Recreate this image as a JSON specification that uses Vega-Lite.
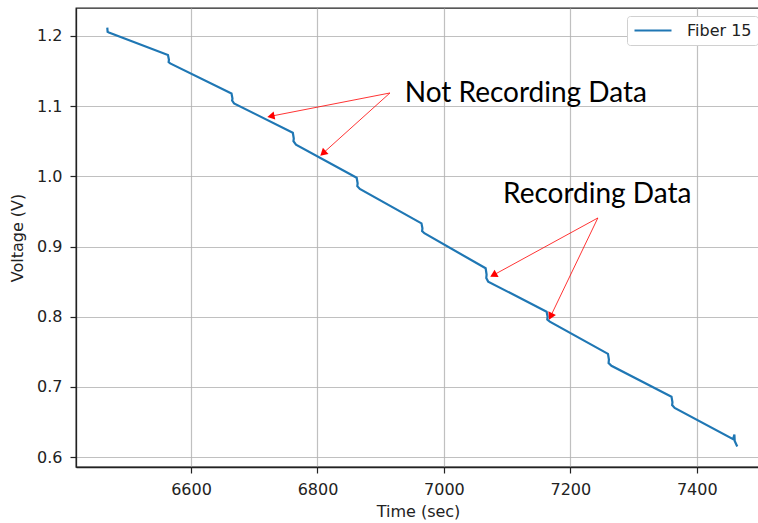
{
  "$schema": "https://vega.github.io/schema/vega-lite/v6.json",
  "width": 684,
  "height": 459,
  "autosize": {"type": "none"},
  "padding": {"left": 76, "top": 8, "right": 0, "bottom": 56},
  "background": "white",
  "config": {
    "view": {"stroke": "#222222", "strokeWidth": 1.3},
    "axis": {
      "labelFont": "DejaVu Sans", "labelFontSize": 16, "labelColor": "#222222",
      "titleFont": "DejaVu Sans", "titleFontSize": 16, "titleFontWeight": "normal", "titleColor": "#222222",
      "gridColor": "#b0b0b0", "gridWidth": 1.2, "gridOpacity": 0.8,
      "domainColor": "#222222", "domainWidth": 1.3,
      "tickColor": "#222222", "tickSize": 6, "tickWidth": 1.2
    }
  },
  "datasets": {
    "line": [
      {"i": 0, "t": 6467.5, "v": 1.212, "series": "Fiber 15"},
      {"i": 1, "t": 6468, "v": 1.206, "series": "Fiber 15"},
      {"i": 2, "t": 6470, "v": 1.205, "series": "Fiber 15"},
      {"i": 3, "t": 6563.5, "v": 1.173, "series": "Fiber 15"},
      {"i": 4, "t": 6565, "v": 1.166, "series": "Fiber 15"},
      {"i": 5, "t": 6564.5, "v": 1.163, "series": "Fiber 15"},
      {"i": 6, "t": 6567, "v": 1.161, "series": "Fiber 15"},
      {"i": 7, "t": 6664, "v": 1.118, "series": "Fiber 15"},
      {"i": 8, "t": 6665.5, "v": 1.111, "series": "Fiber 15"},
      {"i": 9, "t": 6665, "v": 1.108, "series": "Fiber 15"},
      {"i": 10, "t": 6668, "v": 1.104, "series": "Fiber 15"},
      {"i": 11, "t": 6761, "v": 1.062, "series": "Fiber 15"},
      {"i": 12, "t": 6762.5, "v": 1.054, "series": "Fiber 15"},
      {"i": 13, "t": 6762, "v": 1.05, "series": "Fiber 15"},
      {"i": 14, "t": 6766, "v": 1.045, "series": "Fiber 15"},
      {"i": 15, "t": 6862, "v": 0.998, "series": "Fiber 15"},
      {"i": 16, "t": 6863.5, "v": 0.99, "series": "Fiber 15"},
      {"i": 17, "t": 6863, "v": 0.986, "series": "Fiber 15"},
      {"i": 18, "t": 6867, "v": 0.982, "series": "Fiber 15"},
      {"i": 19, "t": 6964.5, "v": 0.933, "series": "Fiber 15"},
      {"i": 20, "t": 6966, "v": 0.926, "series": "Fiber 15"},
      {"i": 21, "t": 6965.5, "v": 0.922, "series": "Fiber 15"},
      {"i": 22, "t": 6969, "v": 0.919, "series": "Fiber 15"},
      {"i": 23, "t": 7066, "v": 0.869, "series": "Fiber 15"},
      {"i": 24, "t": 7067.5, "v": 0.86, "series": "Fiber 15"},
      {"i": 25, "t": 7067, "v": 0.855, "series": "Fiber 15"},
      {"i": 26, "t": 7070, "v": 0.85, "series": "Fiber 15"},
      {"i": 27, "t": 7162.5, "v": 0.807, "series": "Fiber 15"},
      {"i": 28, "t": 7164, "v": 0.8, "series": "Fiber 15"},
      {"i": 29, "t": 7163.5, "v": 0.796, "series": "Fiber 15"},
      {"i": 30, "t": 7167.5, "v": 0.793, "series": "Fiber 15"},
      {"i": 31, "t": 7259.5, "v": 0.747, "series": "Fiber 15"},
      {"i": 32, "t": 7261, "v": 0.739, "series": "Fiber 15"},
      {"i": 33, "t": 7260.5, "v": 0.734, "series": "Fiber 15"},
      {"i": 34, "t": 7265, "v": 0.73, "series": "Fiber 15"},
      {"i": 35, "t": 7360, "v": 0.686, "series": "Fiber 15"},
      {"i": 36, "t": 7361.5, "v": 0.678, "series": "Fiber 15"},
      {"i": 37, "t": 7361, "v": 0.674, "series": "Fiber 15"},
      {"i": 38, "t": 7365, "v": 0.67, "series": "Fiber 15"},
      {"i": 39, "t": 7457.5, "v": 0.6255, "series": "Fiber 15"},
      {"i": 40, "t": 7459.5, "v": 0.632, "series": "Fiber 15"},
      {"i": 41, "t": 7460, "v": 0.623, "series": "Fiber 15"},
      {"i": 42, "t": 7464, "v": 0.615, "series": "Fiber 15"}
    ],
    "arrows": [
      {"t": 6914.6, "v": 1.1188, "t2": 6726.3, "v2": 1.0857},
      {"t": 6914.6, "v": 1.1188, "t2": 6808.7, "v2": 1.0329},
      {"t": 7243.5, "v": 0.9407, "t2": 7078.3, "v2": 0.8593},
      {"t": 7243.5, "v": 0.9407, "t2": 7168.7, "v2": 0.8004}
    ],
    "labels": [
      {"t": 6938, "v": 1.1064, "text": "Not Recording Data"},
      {"t": 7093.5, "v": 0.9616, "text": "Recording Data"}
    ]
  },
  "layer": [
    {
      "data": {"name": "line"},
      "mark": {"type": "line", "strokeWidth": 2.2, "clip": true},
      "encoding": {
        "x": {"field": "t", "type": "quantitative", "title": "Time (sec)",
              "scale": {"domain": [6418, 7500], "nice": false, "zero": false},
              "axis": {"values": [6600, 6800, 7000, 7200, 7400], "grid": true, "labelPadding": 8, "titlePadding": 6, "format": "d"}},
        "y": {"field": "v", "type": "quantitative", "title": "Voltage (V)",
              "scale": {"domain": [0.5858, 1.2399], "nice": false, "zero": false},
              "axis": {"values": [0.6, 0.7, 0.8, 0.9, 1.0, 1.1, 1.2], "grid": true, "format": ".1f", "labelPadding": 8, "titlePadding": 11}},
        "order": {"field": "i", "type": "quantitative"},
        "color": {"field": "series", "type": "nominal",
                  "scale": {"range": ["#1f77b4"]},
                  "legend": {"orient": "none", "legendX": 551, "legendY": 8, "title": null,
                             "fillColor": "white", "strokeColor": "#d0d0d0", "cornerRadius": 3, "padding": 6,
                             "symbolType": "stroke", "symbolSize": 1369, "symbolStrokeWidth": 2.2, "clipHeight": 17,
                             "labelFont": "DejaVu Sans", "labelFontSize": 16, "labelColor": "#222222", "labelOffset": 14}}
      }
    },
    {
      "data": {"name": "arrows"},
      "mark": {"type": "rule", "color": "red", "strokeWidth": 0.8},
      "encoding": {
        "x": {"field": "t", "type": "quantitative"},
        "y": {"field": "v", "type": "quantitative"},
        "x2": {"field": "t2"},
        "y2": {"field": "v2"}
      }
    },
    {
      "data": {"name": "arrows"},
      "transform": [{"filter": "datum.t2 < 6750"}],
      "mark": {"type": "point", "shape": "triangle-right", "filled": true, "color": "red", "opacity": 1, "size": 70, "angle": 169},
      "encoding": {"x": {"field": "t2", "type": "quantitative"}, "y": {"field": "v2", "type": "quantitative"}}
    },
    {
      "data": {"name": "arrows"},
      "transform": [{"filter": "datum.t2 > 6750 && datum.t2 < 6900"}],
      "mark": {"type": "point", "shape": "triangle-right", "filled": true, "color": "red", "opacity": 1, "size": 70, "angle": 138},
      "encoding": {"x": {"field": "t2", "type": "quantitative"}, "y": {"field": "v2", "type": "quantitative"}}
    },
    {
      "data": {"name": "arrows"},
      "transform": [{"filter": "datum.t2 > 7000 && datum.t2 < 7100"}],
      "mark": {"type": "point", "shape": "triangle-right", "filled": true, "color": "red", "opacity": 1, "size": 70, "angle": 151},
      "encoding": {"x": {"field": "t2", "type": "quantitative"}, "y": {"field": "v2", "type": "quantitative"}}
    },
    {
      "data": {"name": "arrows"},
      "transform": [{"filter": "datum.t2 > 7100"}],
      "mark": {"type": "point", "shape": "triangle-right", "filled": true, "color": "red", "opacity": 1, "size": 70, "angle": 116},
      "encoding": {"x": {"field": "t2", "type": "quantitative"}, "y": {"field": "v2", "type": "quantitative"}}
    },
    {
      "data": {"name": "labels"},
      "mark": {"type": "text", "align": "left", "baseline": "alphabetic", "font": "Lato", "fontSize": 28, "color": "black"},
      "encoding": {
        "x": {"field": "t", "type": "quantitative"},
        "y": {"field": "v", "type": "quantitative"},
        "text": {"field": "text"}
      }
    }
  ]
}
